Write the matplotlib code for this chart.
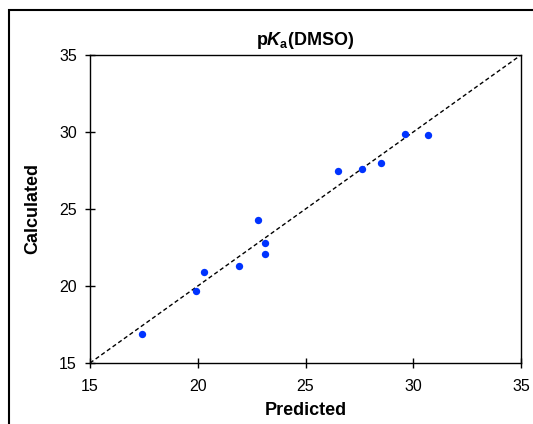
import matplotlib
matplotlib.use("Agg")
import matplotlib.pyplot as plt
from matplotlib.patches import Rectangle

plt.rcParams['font.family'] = ['Liberation Sans', 'DejaVu Sans']
plt.rcParams['mathtext.fontset'] = 'custom'
plt.rcParams['mathtext.rm'] = 'Liberation Sans:bold'
plt.rcParams['mathtext.it'] = 'Liberation Sans:italic:bold'
plt.rcParams['mathtext.bf'] = 'Liberation Sans:bold'

# values
predicted = [17.4, 19.9, 20.3, 21.9, 22.8, 23.1, 23.1, 26.5, 27.6, 28.5, 29.6, 30.7]
calculated = [16.9, 19.7, 20.9, 21.3, 24.3, 22.8, 22.1, 27.5, 27.6, 28.0, 29.9, 29.8]
ticks = [15, 20, 25, 30, 35]
lims = [15, 35]

fig = plt.figure(figsize=(5.33, 4.24), dpi=100)
ax = fig.add_axes([90 / 533, 1 - 363 / 424, 431 / 533, 308 / 424])

# outer frame of the figure
fig.patches.append(Rectangle((9 / 533, -0.1), 1.2, 1.1 - 10 / 424,
                             transform=fig.transFigure, fill=False,
                             edgecolor='black', linewidth=1.5))

ax.plot(lims, lims, linestyle=(0, (3, 2)), color='black', linewidth=1)
ax.scatter(predicted, calculated, s=28, color='#0033ff', zorder=3, linewidths=0)

ax.set_xlim(lims)
ax.set_ylim(lims)
ax.set_xticks(ticks)
ax.set_yticks(ticks)
ax.tick_params(direction='inout', length=7, width=1, labelsize=11.5)
ax.tick_params(axis='x', pad=8)
ax.tick_params(axis='y', pad=6)
for s in ax.spines.values():
    s.set_linewidth(1)

ax.set_title(r'p$K_{\mathrm{a}}$(DMSO)', fontsize=13, fontweight='bold', pad=7)
ax.set_xlabel('Predicted', fontsize=13, fontweight='bold', labelpad=6)
ax.set_ylabel('Calculated', fontsize=13, fontweight='bold', labelpad=13)

fig.savefig('out.png', dpi=100)
